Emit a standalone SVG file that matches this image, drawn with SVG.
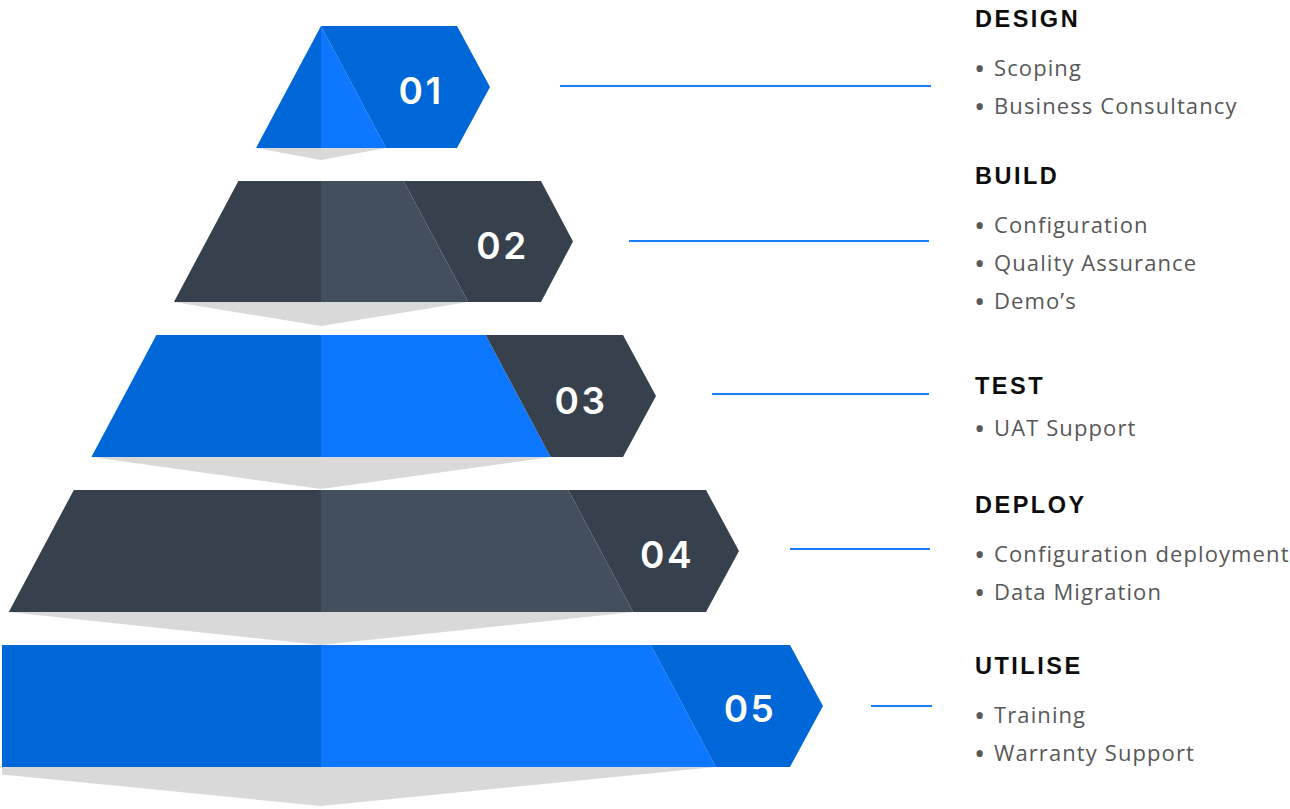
<svg xmlns="http://www.w3.org/2000/svg" width="1290" height="809" viewBox="0 0 1290 809">
  <style>
    .bg { fill: #ffffff; }
    .shadow { fill: #d9d9d9; }
    .blue-dark { fill: #0067d8; }
    .blue-light { fill: #0d77ff; }
    .gray-dark { fill: #36414d; }
    .gray-mid { fill: #444f5e; }
    .num { font-family: Inter, "Open Sans", sans-serif; font-weight: 600; font-size: 37px; letter-spacing: 2.5px; fill: #ffffff; text-anchor: middle; }
    .link { stroke: #1a7cff; stroke-width: 2; fill: none; }
    .head { font-family: "Liberation Sans", Arial, sans-serif; font-weight: 700; font-size: 23.5px; letter-spacing: 2.5px; fill: #0d0d0d; }
    .item { font-family: "Open Sans", "Liberation Sans", sans-serif; font-size: 22px; letter-spacing: 1.1px; fill: #585858; }
    .dot { font-size: 30px; letter-spacing: 0; fill: #5a5a5a; }
  </style>

  <rect class="bg" x="0" y="0" width="1290" height="809"/>

  <!-- drop shadows beneath each tier -->
  <g id="shadows">
    <polygon class="shadow" points="256,148 321,160 386,148"/>
    <polygon class="shadow" points="173.9,302 321,326 468.1,302"/>
    <polygon class="shadow" points="91.4,457 321,489 550.6,457"/>
    <polygon class="shadow" points="8.8,612 321,645 633.2,612"/>
    <polygon class="shadow" points="2,767 2,774.5 321,806 715.8,767"/>
  </g>

  <!-- tier 1 -->
  <g id="tier-01">
    <polygon class="blue-dark" points="321,26 256,148 321,148"/>
    <polygon class="blue-light" points="321,26 386,148 321,148"/>
    <polygon class="blue-dark" points="321,26 457,26 490,87 457,148 386,148"/>
    <text class="num" x="421" y="103.5">01</text>
  </g>

  <!-- tier 2 -->
  <g id="tier-02">
    <polygon class="gray-dark" points="238.4,181 321,181 321,302 173.9,302"/>
    <polygon class="gray-mid" points="321,181 403.6,181 468.1,302 321,302"/>
    <polygon class="gray-dark" points="403.6,181 541,181 573,241.5 541,302 468.1,302"/>
    <text class="num" x="502.5" y="259">02</text>
  </g>

  <!-- tier 3 -->
  <g id="tier-03">
    <polygon class="blue-dark" points="156.4,335 321,335 321,457 91.4,457"/>
    <polygon class="blue-light" points="321,335 485.6,335 550.6,457 321,457"/>
    <polygon class="gray-dark" points="485.6,335 623,335 656,396 623,457 550.6,457"/>
    <text class="num" x="581" y="414">03</text>
  </g>

  <!-- tier 4 -->
  <g id="tier-04">
    <polygon class="gray-dark" points="73.8,490 321,490 321,612 8.8,612"/>
    <polygon class="gray-mid" points="321,490 568.2,490 633.2,612 321,612"/>
    <polygon class="gray-dark" points="568.2,490 706,490 739,551 706,612 633.2,612"/>
    <text class="num" x="667" y="567.5">04</text>
  </g>

  <!-- tier 5 -->
  <g id="tier-05">
    <polygon class="blue-dark" points="2,645 321,645 321,767 2,767"/>
    <polygon class="blue-light" points="321,645 650.8,645 715.8,767 321,767"/>
    <polygon class="blue-dark" points="650.8,645 790,645 823,706 790,767 715.8,767"/>
    <text class="num" x="750" y="722">05</text>
  </g>

  <!-- leader lines from tiers to their descriptions -->
  <g id="connectors">
    <line class="link" x1="560" y1="86" x2="931" y2="86"/>
    <line class="link" x1="629" y1="241" x2="929" y2="241"/>
    <line class="link" x1="712" y1="394" x2="929" y2="394"/>
    <line class="link" x1="790" y1="549" x2="930" y2="549"/>
    <line class="link" x1="871" y1="706" x2="932" y2="706"/>
  </g>

  <!-- stage descriptions; the bullet glyph is dropped 3px to sit at mid x-height -->
  <g id="label-design">
    <text class="head" x="975" y="27">DESIGN</text>
    <text class="item" x="974" y="76"><tspan class="dot" dy="3">•</tspan><tspan x="994" dy="-3">Scoping</tspan></text>
    <text class="item" x="974" y="114"><tspan class="dot" dy="3">•</tspan><tspan x="994" dy="-3">Business Consultancy</tspan></text>
  </g>
  <g id="label-build">
    <text class="head" x="975" y="184">BUILD</text>
    <text class="item" x="974" y="233"><tspan class="dot" dy="3">•</tspan><tspan x="994" dy="-3">Configuration</tspan></text>
    <text class="item" x="974" y="271"><tspan class="dot" dy="3">•</tspan><tspan x="994" dy="-3">Quality Assurance</tspan></text>
    <text class="item" x="974" y="309"><tspan class="dot" dy="3">•</tspan><tspan x="994" dy="-3">Demo’s</tspan></text>
  </g>
  <g id="label-test">
    <text class="head" x="975" y="394">TEST</text>
    <text class="item" x="974" y="436"><tspan class="dot" dy="3">•</tspan><tspan x="994" dy="-3">UAT Support</tspan></text>
  </g>
  <g id="label-deploy">
    <text class="head" x="975" y="513">DEPLOY</text>
    <text class="item" x="974" y="562"><tspan class="dot" dy="3">•</tspan><tspan x="994" dy="-3">Configuration deployment</tspan></text>
    <text class="item" x="974" y="600"><tspan class="dot" dy="3">•</tspan><tspan x="994" dy="-3">Data Migration</tspan></text>
  </g>
  <g id="label-utilise">
    <text class="head" x="975" y="674">UTILISE</text>
    <text class="item" x="974" y="723"><tspan class="dot" dy="3">•</tspan><tspan x="994" dy="-3">Training</tspan></text>
    <text class="item" x="974" y="761"><tspan class="dot" dy="3">•</tspan><tspan x="994" dy="-3">Warranty Support</tspan></text>
  </g>
</svg>
